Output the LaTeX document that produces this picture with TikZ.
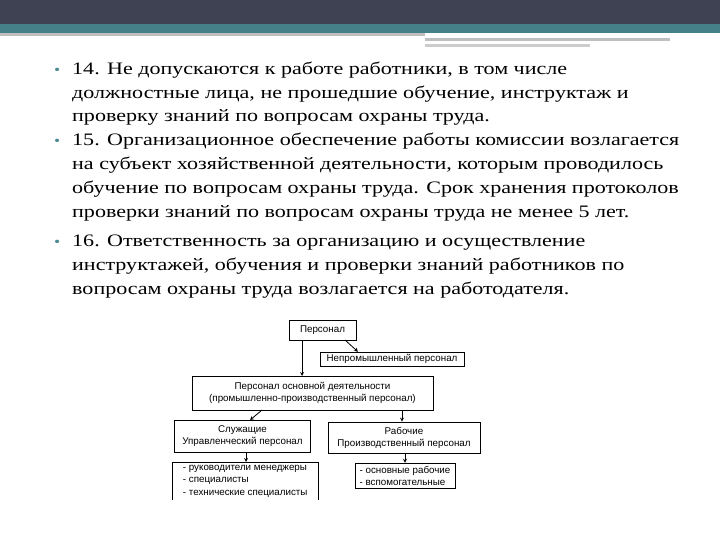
\documentclass[tikz,border=0pt]{standalone}
\usepackage{fontspec}
\setmainfont{Liberation Serif}[FakeStretch=1.26]
\newfontfamily\dsans{Liberation Sans}
\definecolor{topdark}{HTML}{3F4252}
\definecolor{topteal}{HTML}{458088}
\definecolor{bul}{HTML}{4A8A93}
\begin{document}
\begin{tikzpicture}[x=1pt,y=-1pt,
  tl/.style={anchor=base west,inner sep=0pt,font=\fontsize{17.5}{20}\selectfont},
  bu/.style={anchor=base west,inner sep=0pt,text=bul,font=\fontsize{14}{16}\selectfont},
  bx/.style={draw,thick,inner sep=0pt,font=\dsans\fontsize{9.8}{12}\selectfont,align=center},
  ar/.style={->,thick,>=stealth}]
\useasboundingbox (0,0) rectangle (720,540);
\fill[topdark] (0,0) rectangle (720,24);
\fill[topteal] (0,24) rectangle (720,33);
\fill[gray!50] (0,33) rectangle (425,36);
\fill[gray!50] (425,38) rectangle (670,41);
\fill[gray!40] (425,44) rectangle (590,47);
% text
\node[bu] (b1) at (54,75) {•};
\node[tl] (l1) at (72,75) {14. Не допускаются к работе работники, в том числе};
\node[tl] (l2) at (72,98.5) {должностные лица, не прошедшие обучение, инструктаж и};
\node[tl] (l3) at (72,122) {проверку знаний по вопросам охраны труда.};
\node[bu] (b2) at (54,146) {•};
\node[tl] (l4) at (72,146) {15. Организационное обеспечение работы комиссии возлагается};
\node[tl] (l5) at (72,170) {на субъект хозяйственной деятельности, которым проводилось};
\node[tl] (l6) at (72,194) {обучение по вопросам охраны труда. Срок хранения протоколов};
\node[tl] (l7) at (72,218) {проверки знаний по вопросам охраны труда не менее 5 лет.};
\node[bu] (b3) at (54,246) {•};
\node[tl] (l8) at (72,246) {16. Ответственность за организацию и осуществление};
\node[tl] (l9) at (72,270) {инструктажей, обучения и проверки знаний работников по};
\node[tl] (l10) at (72,294) {вопросам охраны труда возлагается на работодателя.};
% diagram
\node[bx,minimum width=67,minimum height=20] (p) at (322.5,330) {Персонал};
\node[bx,thin,minimum width=144,minimum height=14] (np) at (392,359) {Непромышленный персонал};
\node[bx,minimum width=241,minimum height=34] (m) at (312.5,393) {Персонал основной деятельности\\(промышленно-производственный персонал)};
\node[bx,minimum width=136,minimum height=32] (s) at (242.5,436.5) {Служащие\\Управленческий персонал};
\node[bx,minimum width=152,minimum height=31] (r) at (404,437.5) {Рабочие\\Производственный персонал};
\node[inner sep=0pt,minimum width=146,minimum height=38,font=\dsans\fontsize{9.8}{12.5}\selectfont,align=left,anchor=north west] (sl) at (172,462) {- руководители менеджеры\\- специалисты\\- технические специалисты};
\draw[thick] (sl.south west) |- (sl.north east) -- (sl.south east);
\node[bx,thin,minimum width=100,minimum height=25,align=left] (rl) at (405,475.5) {- основные рабочие\\- вспомогательные};
\coordinate (pa) at (302,340);
\draw[ar] (pa) -- (302,376);
\draw[ar] (345,340) -- (np.north west -| 358,352);
\draw[ar] (262,410) -- (s.north -| 250,420);
\draw[ar] (402,410) -- (r.north -| 402,422);
\draw[ar] (246,452) -- (sl.north -| 246,462);
\draw[ar] (405,453) -- (rl.north);
\end{tikzpicture}
\end{document}
